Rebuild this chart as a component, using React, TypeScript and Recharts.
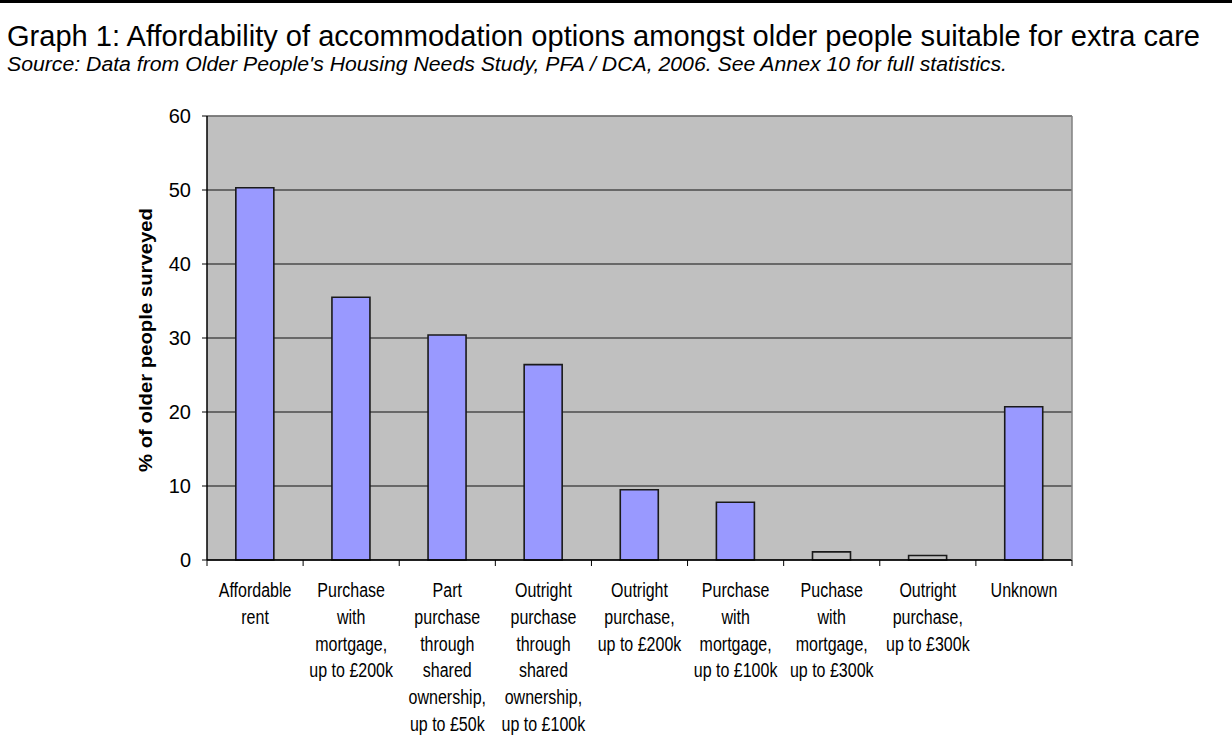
import React from "react";
import { BarChart, Bar, XAxis, YAxis, CartesianGrid, ReferenceLine, Cell } from "recharts";

const TITLE = "Graph 1: Affordability of accommodation options amongst older people suitable for extra care";
const SUBTITLE = "Source: Data from Older People's Housing Needs Study, PFA / DCA, 2006. See Annex 10 for full statistics.";
const Y_LABEL = "% of older people surveyed";

const categories = [
  "Affordable\nrent",
  "Purchase\nwith\nmortgage,\nup to £200k",
  "Part\npurchase\nthrough\nshared\nownership,\nup to £50k",
  "Outright\npurchase\nthrough\nshared\nownership,\nup to £100k",
  "Outright\npurchase,\nup to £200k",
  "Purchase\nwith\nmortgage,\nup to £100k",
  "Puchase\nwith\nmortgage,\nup to £300k",
  "Outright\npurchase,\nup to £300k",
  "Unknown",
];
const values = [50.3, 35.5, 30.4, 26.4, 9.5, 7.8, 1.1, 0.6, 20.7];
const yTicks = [0, 10, 20, 30, 40, 50, 60];

const data = categories.map((name, i) => ({ name, value: values[i] }));

const FONT = "'Liberation Sans', Arial, Helvetica, sans-serif";
const BG = "#c0c0c0";
const BAR = "#9999ff";

const CHART_W = 1232;
const CHART_H = 748;
const MARGIN = { top: 116, right: 160, bottom: 0, left: 147 };
const Y_AXIS_W = 60;
const X_AXIS_H = 188;
const PLOT_W = CHART_W - MARGIN.left - MARGIN.right - Y_AXIS_W;
const BAND = PLOT_W / categories.length;

const XTick = (props: any) => {
  const { x, y, payload, index } = props;
  const lines: string[] = String(payload.value).split("\n");
  const last = index === categories.length - 1;
  return (
    <g transform={`translate(${x},${y})`}>
      <line x1={-BAND / 2} x2={-BAND / 2} y1={0} y2={6} stroke="#000" strokeWidth={1} />
      {last && <line x1={BAND / 2} x2={BAND / 2} y1={0} y2={6} stroke="#000" strokeWidth={1} />}
      {lines.map((l, i) => (
        <text
          key={i}
          x={0}
          y={0}
          textAnchor="middle"
          fontFamily={FONT}
          fontSize={20}
          fill="#000"
          transform={`translate(0,${37 + i * 26.8}) scale(0.8,1)`}
        >
          {l}
        </text>
      ))}
    </g>
  );
};

export default function App() {
  return (
    <div style={{ position: "relative", width: CHART_W, height: CHART_H, background: "#fff" }}>
      <style>{"body{margin:0}"}</style>
      <BarChart
        width={CHART_W}
        height={CHART_H}
        data={data}
        margin={MARGIN}
        barCategoryGap="30%"
      >
        <CartesianGrid
          vertical={false}
          horizontal={true}
          stroke="#111"
          strokeWidth={1}
          fill={BG}
          fillOpacity={1}
        />
        <XAxis
          dataKey="name"
          type="category"
          interval={0}
          height={X_AXIS_H}
          axisLine={{ stroke: "#000", strokeWidth: 1.5 }}
          tickLine={false}
          tickSize={0}
          tickMargin={0}
          tick={<XTick />}
        />
        <YAxis
          width={Y_AXIS_W}
          domain={[0, 60]}
          ticks={yTicks}
          interval={0}
          tickSize={5}
          tickMargin={11}
          axisLine={{ stroke: "#000", strokeWidth: 1.5 }}
          tickLine={{ stroke: "#000" }}
          tick={{ fontFamily: FONT, fontSize: 20, fill: "#000" }}
        />
        <ReferenceLine y={60} stroke="#808080" strokeWidth={1.5} />
        <Bar dataKey="value" isAnimationActive={false} stroke="#1a1a1a" strokeWidth={1.6}>
          {data.map((d, i) => (
            <Cell key={i} fill={d.value < 2 ? BG : BAR} />
          ))}
        </Bar>
      </BarChart>
      <svg
        width={CHART_W}
        height={CHART_H}
        style={{ position: "absolute", left: 0, top: 0, pointerEvents: "none" }}
      >
        <rect x={0} y={0} width={CHART_W} height={3} fill="#000" />
        <line
          x1={MARGIN.left + Y_AXIS_W + PLOT_W}
          x2={MARGIN.left + Y_AXIS_W + PLOT_W}
          y1={MARGIN.top}
          y2={CHART_H - MARGIN.bottom - X_AXIS_H}
          stroke="#808080"
          strokeWidth={1.5}
        />
        <text
          x={7}
          y={46}
          fontFamily={FONT}
          fontSize={29}
          fill="#000"
          textLength={1193}
          lengthAdjust="spacingAndGlyphs"
        >
          {TITLE}
        </text>
        <text
          x={7}
          y={71}
          fontFamily={FONT}
          fontSize={19.5}
          fontStyle="italic"
          fill="#000"
          textLength={1000}
          lengthAdjust="spacingAndGlyphs"
        >
          {SUBTITLE}
        </text>
        <text
          transform="translate(152,340) rotate(-90)"
          textAnchor="middle"
          fontFamily={FONT}
          fontSize={18}
          fontWeight="bold"
          fill="#000"
          textLength={264}
          lengthAdjust="spacingAndGlyphs"
        >
          {Y_LABEL}
        </text>
      </svg>
    </div>
  );
}
